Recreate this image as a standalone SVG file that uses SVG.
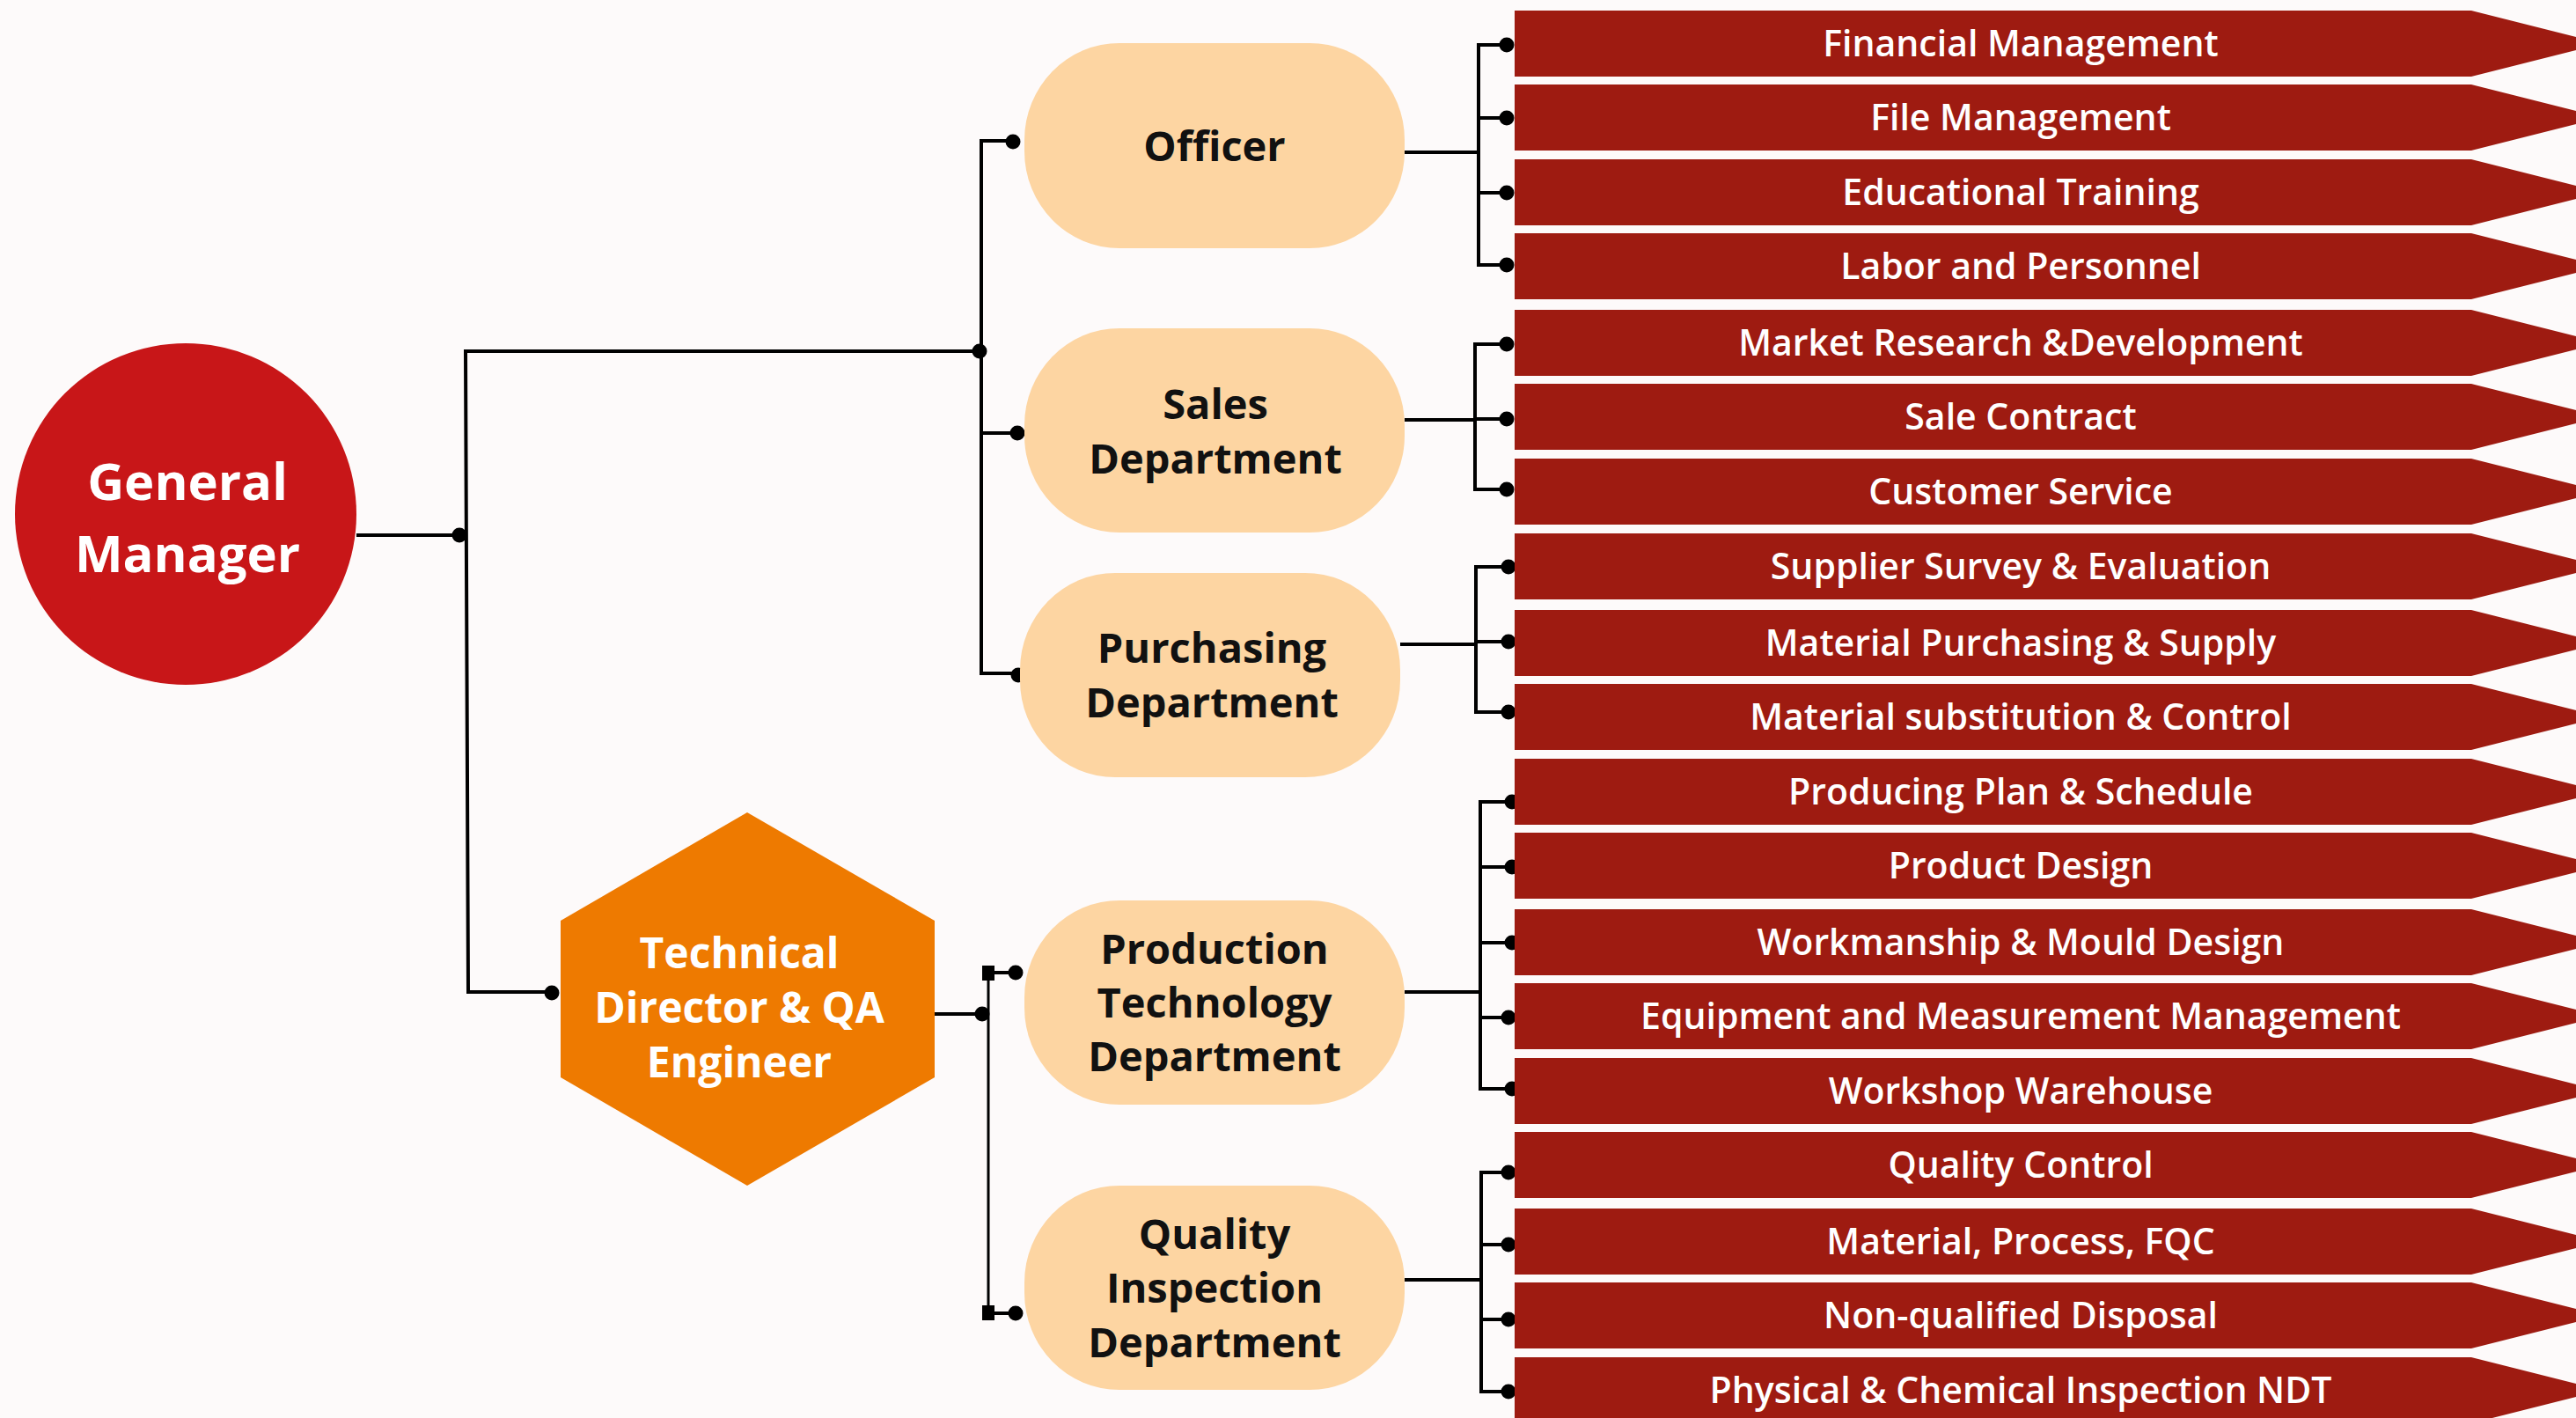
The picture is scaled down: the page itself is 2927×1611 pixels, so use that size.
<svg xmlns="http://www.w3.org/2000/svg" width="2927" height="1611" viewBox="0 0 2927 1611">
<style>
.bg{fill:#FDFAFA}
.pill{fill:#FDD5A2}
.ban{fill:#9E1B11}
.ln{fill:none;stroke:#000;stroke-width:4;stroke-linejoin:miter}
.ln2{fill:none;stroke:#000;stroke-width:3}
.dot{fill:#000}
.nt{font-family:"Open Sans","Liberation Sans",sans-serif;font-weight:700;font-size:47px;fill:#111;text-anchor:middle}
.wt{font-family:"Open Sans","Liberation Sans",sans-serif;font-weight:700;fill:#fff;text-anchor:middle}
.bt{font-family:"Open Sans","Liberation Sans",sans-serif;font-weight:600;font-size:41px;fill:#fff;text-anchor:middle}
</style>
<defs>
<polygon id="banner" points="0,0 1087,0 1236,37.5 1087,75 0,75"/>
</defs>
<rect class="bg" x="0" y="0" width="2927" height="1611"/>

<g id="connectors">
<path class="ln" d="M405,608 H522"/>
<path class="ln" d="M1113,399 H529 L532,1127 H627"/>
<circle class="dot" cx="522" cy="608" r="8.5"/>
<circle class="dot" cx="1113" cy="399" r="8.5"/>
<circle class="dot" cx="627" cy="1128" r="8.5"/>
<path class="ln" d="M1151,160 H1115 V765 H1157"/>
<path class="ln" d="M1115,492 H1156"/>
<circle class="dot" cx="1151" cy="161" r="8.5"/>
<circle class="dot" cx="1156" cy="492" r="8.5"/>
<circle class="dot" cx="1157" cy="767" r="8.5"/>
<path class="ln" d="M1062,1152 H1116"/>
<circle class="dot" cx="1116" cy="1152" r="8.5"/>
<path class="ln2" d="M1123,1105 V1492"/>
<rect class="dot" x="1116" y="1097" width="14" height="17"/>
<rect class="dot" x="1116" y="1483" width="14" height="17"/>
<path class="ln" d="M1130,1105 H1154 M1130,1492 H1154"/>
<circle class="dot" cx="1154" cy="1105" r="8.5"/>
<circle class="dot" cx="1154" cy="1492" r="8.5"/>
<path class="ln" d="M1596,173 H1680 M1712,51 H1680 V301 H1712 M1680,134 H1712 M1680,219 H1712"/>
<g class="dot"><circle cx="1712" cy="51" r="8.5"/><circle cx="1712" cy="134" r="8.5"/><circle cx="1712" cy="219" r="8.5"/><circle cx="1712" cy="301" r="8.5"/></g>
<path class="ln" d="M1596,477 H1676 M1712,391 H1676 V556 H1712 M1676,476 H1712"/>
<g class="dot"><circle cx="1712" cy="391" r="8.5"/><circle cx="1712" cy="476" r="8.5"/><circle cx="1712" cy="556" r="8.5"/></g>
<path class="ln" d="M1591,732 H1677 M1714,644 H1677 V809 H1714 M1677,729 H1714"/>
<g class="dot"><circle cx="1714" cy="644" r="8.5"/><circle cx="1714" cy="729" r="8.5"/><circle cx="1714" cy="809" r="8.5"/></g>
<path class="ln" d="M1596,1127 H1682 M1718,911 H1682 V1237 H1718 M1682,985 H1718 M1682,1071 H1718 M1682,1156 H1718"/>
<g class="dot"><circle cx="1718" cy="911" r="8.5"/><circle cx="1718" cy="985" r="8.5"/><circle cx="1718" cy="1071" r="8.5"/><circle cx="1714" cy="1156" r="8.5"/><circle cx="1718" cy="1237" r="8.5"/></g>
<path class="ln" d="M1596,1454 H1683 M1714,1332 H1683 V1581 H1714 M1683,1414 H1714 M1683,1499 H1714"/>
<g class="dot"><circle cx="1714" cy="1332" r="8.5"/><circle cx="1714" cy="1414" r="8.5"/><circle cx="1714" cy="1499" r="8.5"/><circle cx="1714" cy="1581" r="8.5"/></g>
</g>

<g id="general-manager">
<circle cx="211" cy="584" r="194" fill="#C81618"/>
<text class="wt" x="213" y="568" font-size="58">General</text>
<text class="wt" x="213" y="650" font-size="58">Manager</text>
</g>

<g id="technical-director">
<polygon points="849,923 1062,1046 1062,1224 849,1347 637,1224 637,1046" fill="#EE7A00"/>
<text class="wt" x="840" y="1100" font-size="48">Technical</text>
<text class="wt" x="840" y="1162" font-size="48">Director &amp; QA</text>
<text class="wt" x="840" y="1224" font-size="48">Engineer</text>
</g>

<g id="officer">
<rect class="pill" x="1164" y="49" width="432" height="233" rx="108" ry="110"/>
<text class="nt" x="1380" y="183">Officer</text>
</g>
<g id="sales">
<rect class="pill" x="1164" y="373" width="432" height="232" rx="108" ry="110"/>
<text class="nt" x="1381" y="476">Sales</text>
<text class="nt" x="1381" y="538">Department</text>
</g>
<g id="purchasing">
<rect class="pill" x="1159" y="651" width="432" height="232" rx="108" ry="110"/>
<text class="nt" x="1377" y="753">Purchasing</text>
<text class="nt" x="1377" y="815">Department</text>
</g>
<g id="production">
<rect class="pill" x="1164" y="1023" width="432" height="232" rx="108" ry="110"/>
<text class="nt" x="1380" y="1095">Production</text>
<text class="nt" x="1380" y="1156">Technology</text>
<text class="nt" x="1380" y="1217">Department</text>
</g>
<g id="quality">
<rect class="pill" x="1164" y="1347" width="432" height="232" rx="108" ry="110"/>
<text class="nt" x="1380" y="1419">Quality</text>
<text class="nt" x="1380" y="1480">Inspection</text>
<text class="nt" x="1380" y="1542">Department</text>
</g>

<g id="b1"><use href="#banner" class="ban" x="1721" y="12"/><text class="bt" x="2296" y="64">Financial Management</text></g>
<g id="b2"><use href="#banner" class="ban" x="1721" y="96"/><text class="bt" x="2296" y="148">File Management</text></g>
<g id="b3"><use href="#banner" class="ban" x="1721" y="181"/><text class="bt" x="2296" y="233">Educational Training</text></g>
<g id="b4"><use href="#banner" class="ban" x="1721" y="265"/><text class="bt" x="2296" y="317">Labor and Personnel</text></g>
<g id="b5"><use href="#banner" class="ban" x="1721" y="352"/><text class="bt" x="2296" y="404">Market Research &amp;Development</text></g>
<g id="b6"><use href="#banner" class="ban" x="1721" y="436"/><text class="bt" x="2296" y="488">Sale Contract</text></g>
<g id="b7"><use href="#banner" class="ban" x="1721" y="521"/><text class="bt" x="2296" y="573">Customer Service</text></g>
<g id="b8"><use href="#banner" class="ban" x="1721" y="606"/><text class="bt" x="2296" y="658">Supplier Survey &amp; Evaluation</text></g>
<g id="b9"><use href="#banner" class="ban" x="1721" y="693"/><text class="bt" x="2296" y="745">Material Purchasing &amp; Supply</text></g>
<g id="b10"><use href="#banner" class="ban" x="1721" y="777"/><text class="bt" x="2296" y="829">Material substitution &amp; Control</text></g>
<g id="b11"><use href="#banner" class="ban" x="1721" y="862"/><text class="bt" x="2296" y="914">Producing Plan &amp; Schedule</text></g>
<g id="b12"><use href="#banner" class="ban" x="1721" y="946"/><text class="bt" x="2296" y="998">Product Design</text></g>
<g id="b13"><use href="#banner" class="ban" x="1721" y="1033"/><text class="bt" x="2296" y="1085">Workmanship &amp; Mould Design</text></g>
<g id="b14"><use href="#banner" class="ban" x="1721" y="1117"/><text class="bt" x="2296" y="1169">Equipment and Measurement Management</text></g>
<g id="b15"><use href="#banner" class="ban" x="1721" y="1202"/><text class="bt" x="2296" y="1254">Workshop Warehouse</text></g>
<g id="b16"><use href="#banner" class="ban" x="1721" y="1286"/><text class="bt" x="2296" y="1338">Quality Control</text></g>
<g id="b17"><use href="#banner" class="ban" x="1721" y="1373"/><text class="bt" x="2296" y="1425">Material, Process, FQC</text></g>
<g id="b18"><use href="#banner" class="ban" x="1721" y="1457"/><text class="bt" x="2296" y="1509">Non-qualified Disposal</text></g>
<g id="b19"><use href="#banner" class="ban" x="1721" y="1542"/><text class="bt" x="2296" y="1594">Physical &amp; Chemical Inspection NDT</text></g>
</svg>
